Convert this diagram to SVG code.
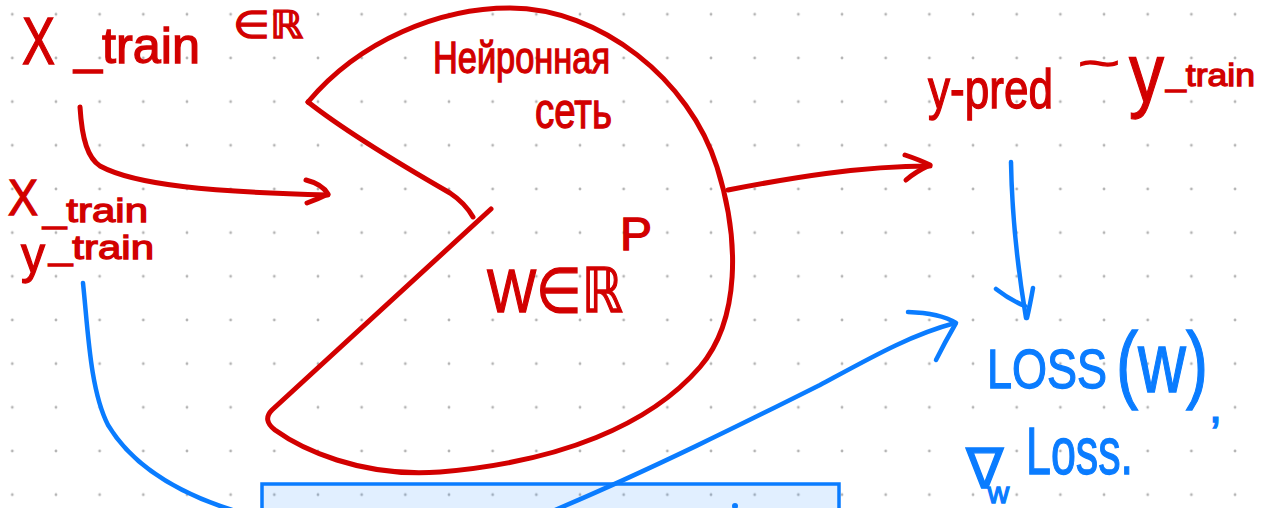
<svg xmlns="http://www.w3.org/2000/svg" width="1272" height="508" viewBox="0 0 1272 508">
<style>
.red{fill:none;stroke:#d20000;stroke-width:5;stroke-linecap:round;stroke-linejoin:round}
.blue{fill:none;stroke:#0a7cff;stroke-width:4.5;stroke-linecap:round;stroke-linejoin:round}
.tr{fill:#d20000;stroke:#d20000;stroke-width:1.3;font-family:"Liberation Sans","DejaVu Sans",sans-serif}
.tb{fill:#0a7cff;stroke:#0a7cff;stroke-width:1.3;font-family:"Liberation Sans","DejaVu Sans",sans-serif}
</style>
<defs>
<pattern id="grid" x="-9.53" y="-7.53" width="43.67" height="43.67" patternUnits="userSpaceOnUse">
<circle cx="21.83" cy="21.83" r="1.4" fill="#b4b4b4"/>
</pattern>
</defs>
<rect width="1272" height="508" fill="#ffffff"/>
<rect width="1272" height="508" fill="url(#grid)"/>

<g id="box">
<rect x="262" y="484" width="577" height="40" fill="#0a7cff" fill-opacity="0.12" stroke="#0a7cff" stroke-width="3.5"/>
<circle cx="735" cy="506" r="3" fill="#0a7cff"/>
</g>

<g id="network">
<path class="red" d="M308 102 C360 40 440 8 510 8 C600 8 690 80 717 167 C740 240 740 320 700 367 C650 425 560 462 440 472 C360 478 300 448 275 430 Q262 420 272 410 L491 209"/>
<path class="red" d="M308 102 C350 135 410 170 450 193 Q465 203 473 217"/>
<text class="tr" x="433" y="73" font-size="44" textLength="177" lengthAdjust="spacingAndGlyphs">Нейронная</text>
<text class="tr" x="535" y="128" font-size="50" textLength="77" lengthAdjust="spacingAndGlyphs">сеть</text>
<text class="tr" x="487" y="312" font-size="62" textLength="136" lengthAdjust="spacingAndGlyphs">W∈ℝ</text>
<text class="tr" x="620" y="250" font-size="46" textLength="32" lengthAdjust="spacingAndGlyphs">P</text>
</g>

<g id="input-xtrain">
<text class="tr" x="22" y="64" font-size="66" textLength="33" lengthAdjust="spacingAndGlyphs">X</text>
<text class="tr" x="74" y="63" font-size="50" textLength="126" lengthAdjust="spacingAndGlyphs">_train</text>
<text class="tr" x="233" y="38" font-size="38" textLength="70" lengthAdjust="spacingAndGlyphs">∈ℝ</text>
</g>

<g id="train-data">
<text class="tr" x="8" y="215" font-size="50" textLength="30" lengthAdjust="spacingAndGlyphs">X</text>
<text class="tr" x="43" y="222" font-size="34" textLength="105" lengthAdjust="spacingAndGlyphs">_train</text>
<text class="tr" x="21" y="272" font-size="52" textLength="24" lengthAdjust="spacingAndGlyphs">y</text>
<text class="tr" x="49" y="259" font-size="34" textLength="105" lengthAdjust="spacingAndGlyphs">_train</text>
</g>

<g id="prediction">
<text class="tr" x="928" y="108" font-size="56" textLength="125" lengthAdjust="spacingAndGlyphs">y-pred</text>
<text class="tr" x="1078" y="78" font-size="42" textLength="42" lengthAdjust="spacingAndGlyphs">~</text>
<text class="tr" x="1129" y="102" font-size="84" textLength="35" lengthAdjust="spacingAndGlyphs">y</text>
<text class="tr" x="1166" y="86" font-size="32" textLength="89" lengthAdjust="spacingAndGlyphs">_train</text>
</g>

<g id="loss">
<text class="tb" x="987" y="388" font-size="56" textLength="120" lengthAdjust="spacingAndGlyphs">LOSS</text>
<text class="tb" x="1116" y="392" font-size="86" textLength="92" lengthAdjust="spacingAndGlyphs">(w)</text>
<text class="tb" x="1209" y="422" font-size="46" textLength="13" lengthAdjust="spacingAndGlyphs">,</text>
</g>

<g id="gradient">
<text class="tb" x="966" y="488" font-size="56">∇<tspan font-size="30" dx="-16" dy="15">w</tspan></text>
<text class="tb" x="1026" y="474" font-size="66" textLength="107" lengthAdjust="spacingAndGlyphs">Loss.</text>
</g>

<g id="connectors">
<path class="red" d="M80 107 C82 140 88 158 100 166 C135 185 210 192 328 195"/>
<path class="red" d="M306 180 Q322 184 328 194 Q318 199 307 203"/>
<path class="red" d="M728 190 C790 178 860 166 930 166"/>
<path class="red" d="M905 155 Q920 160 930 165 Q915 172 906 180"/>
<path class="blue" d="M1011 162 C1012 220 1018 270 1026 318"/>
<path class="blue" d="M996 289 Q1010 300 1025 306 M1033 288 Q1030 305 1027 318"/>
<path class="blue" d="M555 510 C650 470 750 420 820 385 C870 358 910 335 955 323"/>
<path class="blue" d="M908 312 Q940 313 956 323 Q945 342 936 360"/>
<path class="blue" d="M83 283 C88 330 90 390 108 425 C135 470 185 495 232 510"/>
</g>
</svg>
